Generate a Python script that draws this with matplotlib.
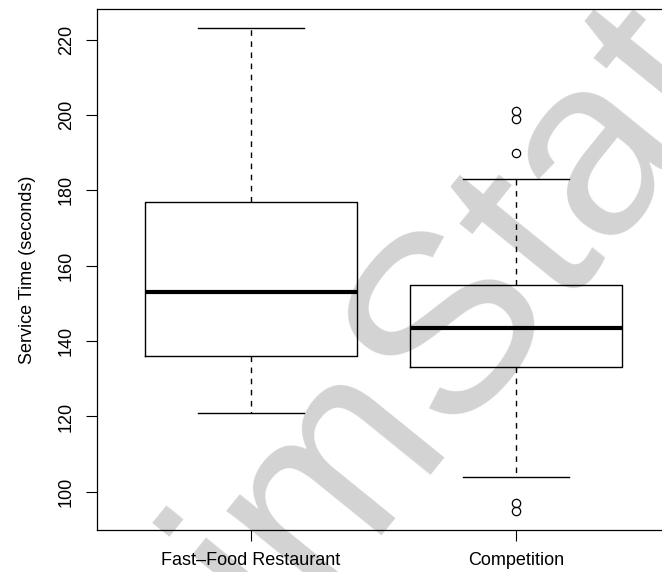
import matplotlib
matplotlib.use("Agg")
import matplotlib.pyplot as plt

plt.rcParams['font.family'] = ['Liberation Sans', 'DejaVu Sans']

groups = ["Fast\u2013Food Restaurant", "Competition"]
whisker_low = [121, 104]
q1 = [136, 133]
median = [153, 143.5]
q3 = [177, 155]
whisker_high = [223, 183]
outliers = [[], [201, 199, 190, 97, 95]]

stats = []
for i, name in enumerate(groups):
    stats.append({
        'label': name,
        'whislo': whisker_low[i], 'q1': q1[i], 'med': median[i],
        'q3': q3[i], 'whishi': whisker_high[i], 'fliers': outliers[i],
    })

fig = plt.figure(figsize=(6.62, 5.72), dpi=100)
W, H = 662, 572
left, right, top, bottom = 97, 670, 9, 530
ax = fig.add_axes([left / W, 1 - bottom / H, (right - left) / W, (bottom - top) / H])
ax.patch.set_visible(False)

# watermark behind the plot
fig.text(280 / W, 1 - 640 / H, "imStat", rotation=51, rotation_mode='anchor',
         ha='left', va='baseline', fontsize=184, color='#d3d3d3', zorder=-1)

ax.bxp(stats, positions=[1, 2], widths=0.8, showfliers=True,
       boxprops=dict(color='black', linewidth=1),
       medianprops=dict(color='black', linewidth=3, solid_capstyle='butt'),
       whiskerprops=dict(color='black', linewidth=1, linestyle=(0, (4, 4))),
       capprops=dict(color='black', linewidth=1),
       capwidths=0.4,
       flierprops=dict(marker='o', markerfacecolor='none', markeredgecolor='black',
                       markersize=6, markeredgewidth=0.9))

all_vals = whisker_low + whisker_high + [v for o in outliers for v in o]
lo, hi = min(all_vals), max(all_vals)
r = hi - lo
ax.set_ylim(lo - 0.04 * r, hi + 0.04 * r)
ax.set_xlim(0.42, 2.58)

ax.set_yticks([100, 120, 140, 160, 180, 200, 220])
ax.set_yticklabels(['100', '120', '140', '160', '180', '200', '220'],
                   rotation=90, va='center')
ax.set_xticks([1, 2])
ax.set_xticklabels(groups)
ax.tick_params(axis='both', labelsize=13, length=8, width=0.8, direction='out', pad=8)
ax.set_ylabel("Service Time (seconds)", fontsize=13, labelpad=16)
for s in ax.spines.values():
    s.set_linewidth(0.9)

fig.savefig("out.png", dpi=100)
